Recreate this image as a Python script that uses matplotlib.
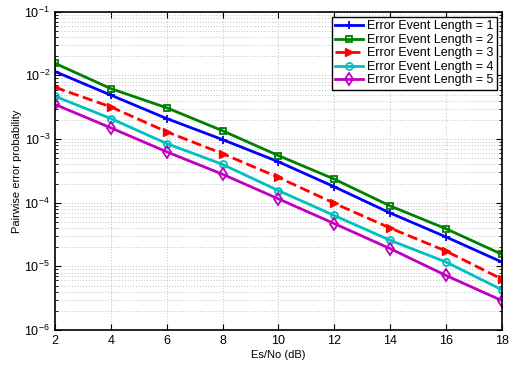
import matplotlib
matplotlib.use("Agg")
import matplotlib.pyplot as plt
from matplotlib.ticker import LogLocator, NullFormatter, MultipleLocator
import numpy as np

plt.rcParams['font.family'] = ['Liberation Sans', 'DejaVu Sans']
plt.rcParams['mathtext.fontset'] = 'custom'
plt.rcParams['mathtext.rm'] = 'Liberation Sans'
plt.rcParams['mathtext.it'] = 'Liberation Sans:italic'

snr_db = [2, 4, 6, 8, 10, 12, 14, 16, 18]
labels = ['Error Event Length = 1', 'Error Event Length = 2', 'Error Event Length = 3',
          'Error Event Length = 4', 'Error Event Length = 5']
pep_len1 = [1.15e-2, 4.9e-3, 2.1e-3, 9.8e-4, 4.4e-4, 1.78e-4, 6.9e-5, 2.9e-5, 1.17e-5]
pep_len2 = [1.55e-2, 6.2e-3, 3.1e-3, 1.35e-3, 5.5e-4, 2.35e-4, 8.9e-5, 3.9e-5, 1.55e-5]
pep_len3 = [6.5e-3, 3.2e-3, 1.3e-3, 5.9e-4, 2.5e-4, 9.8e-5, 4.0e-5, 1.74e-5, 6.3e-6]
pep_len4 = [4.7e-3, 2.1e-3, 8.5e-4, 4.0e-4, 1.55e-4, 6.3e-5, 2.57e-5, 1.17e-5, 4.3e-6]
pep_len5 = [3.5e-3, 1.5e-3, 6.3e-4, 2.8e-4, 1.15e-4, 4.7e-5, 1.9e-5, 7.2e-6, 2.9e-6]

fig = plt.figure(figsize=(5.11, 3.67), dpi=100)
ax = fig.add_axes([0.1076, 0.1008, 0.8744, 0.8672])

ax.semilogy(snr_db, pep_len1, '-', color='#0000ff', marker='+', ms=6, mew=1.3, lw=2, label=labels[0])
ax.semilogy(snr_db, pep_len2, '-', color='#008000', marker='s', ms=4.5, mfc='none', mew=1.3, lw=2, label=labels[1])
ax.semilogy(snr_db, pep_len3, '--', color='#ff0000', marker='>', ms=6, mew=1.0, lw=2, label=labels[2])
ax.semilogy(snr_db, pep_len4, '-', color='#00bfbf', marker='o', ms=5, mfc='none', mew=1.3, lw=2, label=labels[3])
ax.semilogy(snr_db, pep_len5, '-', color='#bf00bf', marker='d', ms=6, mfc='none', mew=1.3, lw=2, label=labels[4])

ax.set_xlim(2, 18)
ax.set_ylim(1e-6, 1e-1)
ax.xaxis.set_major_locator(MultipleLocator(2))
ax.yaxis.set_major_locator(LogLocator(base=10, numticks=10))
ax.yaxis.set_minor_locator(LogLocator(base=10, subs=np.arange(2, 10), numticks=10))
ax.yaxis.set_minor_formatter(NullFormatter())

grid_style = dict(linestyle=(0, (1, 3)), color='#8c8c8c', lw=0.5)
ax.grid(True, which='major', **grid_style)
ax.grid(True, which='minor', axis='y', **grid_style)
ax.tick_params(which='both', direction='in', top=True, right=True, labelsize=9)
ax.tick_params(which='major', length=4)
ax.tick_params(which='minor', length=2)
for s in ax.spines.values():
    s.set_linewidth(1.2)

ax.set_xlabel('Es/No (dB)', fontsize=8, labelpad=2)
ax.set_ylabel('Pairwise error probability', fontsize=8, labelpad=2)

leg = ax.legend(loc='upper right', fontsize=9, fancybox=False, framealpha=1,
                edgecolor='black', borderpad=0.3, labelspacing=0.12, handlelength=2.2,
                handletextpad=0.3, borderaxespad=0.4)
leg.get_frame().set_linewidth(1.0)

fig.savefig('out.png', dpi=100)
